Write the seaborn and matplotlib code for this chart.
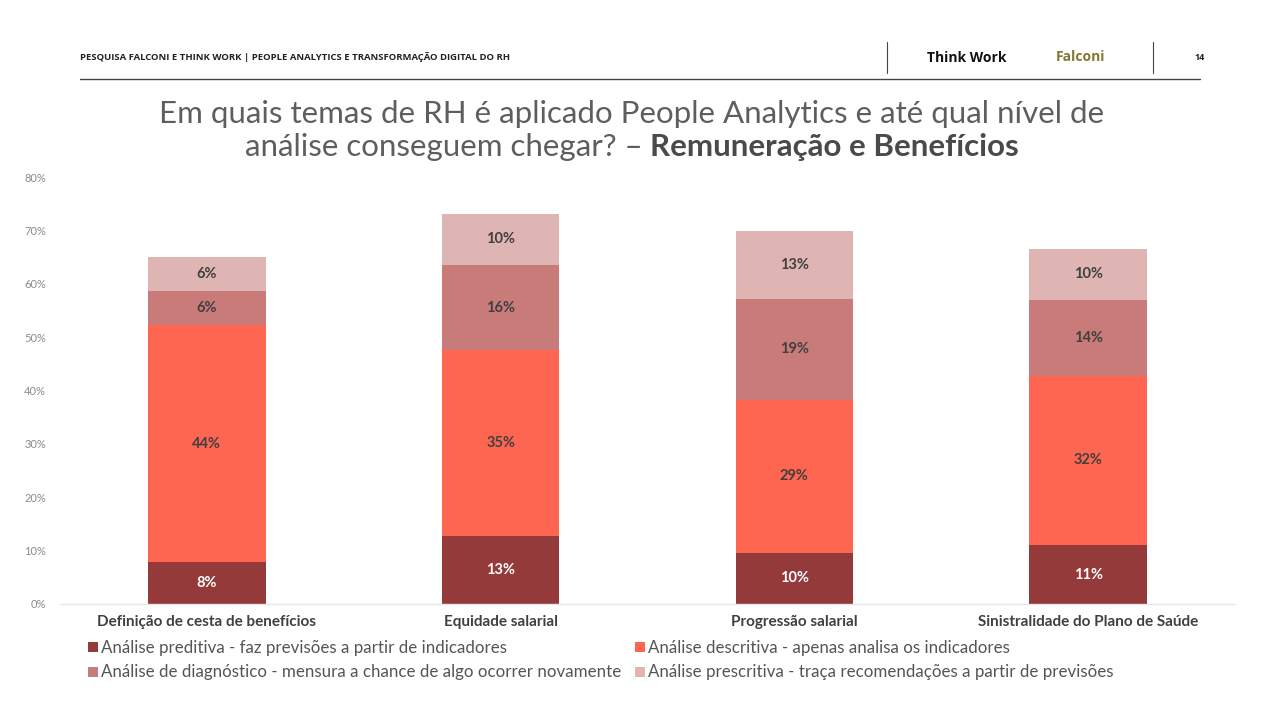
import matplotlib
matplotlib.use("Agg")
import matplotlib.pyplot as plt
from matplotlib.lines import Line2D
import seaborn as sns
import pandas as pd
import numpy as np

categories = ["Definição de cesta de benefícios", "Equidade salarial",
              "Progressão salarial", "Sinistralidade do Plano de Saúde"]
preditiva = [7.9, 12.7, 9.6, 11.0]
descritiva = [44.3, 34.9, 28.7, 31.8]
diagnostico = [6.4, 15.9, 18.9, 14.2]
prescritiva = [6.4, 9.6, 12.7, 9.6]

series_names = [
    "Análise preditiva - faz previsões a partir de indicadores",
    "Análise descritiva - apenas analisa os indicadores",
    "Análise de diagnóstico - mensura a chance de algo ocorrer novamente",
    "Análise prescritiva - traça recomendações a partir de previsões",
]
series_vals = [preditiva, descritiva, diagnostico, prescritiva]
colors = ["#953A3A", "#FF6652", "#C97B79", "#DFB5B4"]
label_colors = ["#FFFFFF", "#3F3F3F", "#3F3F3F", "#3F3F3F"]
yticks = [0, 10, 20, 30, 40, 50, 60, 70, 80]

sns.set_theme(style="white")
plt.rcParams["font.family"] = ["Lato", "DejaVu Sans"]

fig = plt.figure(figsize=(12.8, 7.2), dpi=100)
ax = fig.add_axes([60/1280, 1-604/720, (1235-60)/1280, (604-177)/720])

df = pd.DataFrame({"cat": categories})
cum = np.zeros(len(categories))
cums = []
for vals in series_vals:
    cum = cum + np.array(vals)
    cums.append(cum.copy())

# draw cumulative bars from top down so they overlap into a stack
for i in range(len(series_vals) - 1, -1, -1):
    d = df.copy()
    d["val"] = cums[i]
    sns.barplot(data=d, x="cat", y="val", order=categories, color=colors[i],
                width=0.4, saturation=1, ax=ax, linewidth=0, errorbar=None)

# segment labels
for i, vals in enumerate(series_vals):
    bottoms = cums[i] - np.array(vals)
    for j, v in enumerate(vals):
        ax.text(j, bottoms[j] + v / 2, f"{v:.0f}%", ha="center", va="center",
                fontsize=10.5, fontweight="bold", color=label_colors[i])

ax.set_xlim(-0.5, 3.5)
ax.set_ylim(0, 80)
ax.set_yticks(yticks)
ax.set_yticklabels([f"{t}%" for t in yticks], color="#8A8A8A", fontsize=8)
ax.tick_params(axis="y", length=0, pad=10)
ax.tick_params(axis="x", length=0, pad=8)
ax.set_xticks(range(len(categories)))
ax.set_xticklabels(categories, fontsize=11, fontweight="bold", color="#404040")
ax.set_xlabel("")
ax.set_ylabel("")
for s in ["left", "right", "top"]:
    ax.spines[s].set_visible(False)
ax.spines["bottom"].set_color("#E6E6E6")
ax.spines["bottom"].set_linewidth(1)

# legends (two columns)
def mk(i):
    return Line2D([0], [0], marker="s", linestyle="", markersize=7,
                  markerfacecolor=colors[i], markeredgewidth=0)

leg_kw = dict(frameon=False, fontsize=12.2, handletextpad=0.1, labelspacing=0.5,
              borderpad=0, borderaxespad=0, handlelength=0.8, labelcolor="#555555")
fig.legend([mk(0), mk(2)], [series_names[0], series_names[2]], loc="upper left",
           bbox_to_anchor=(86/1280, 1-640/720), **leg_kw)
fig.legend([mk(1), mk(3)], [series_names[1], series_names[3]], loc="upper left",
           bbox_to_anchor=(633/1280, 1-640/720), **leg_kw)

# title
fig.text(632/1280, 1-114/720,
         "Em quais temas de RH é aplicado People Analytics e até qual nível de",
         ha="center", va="center", fontsize=22.5, color="#5E5E5E", fontweight="normal")
t1 = fig.text(0, 1-147/720, "análise conseguem chegar? – ", ha="left", va="center",
              fontsize=22.5, color="#5E5E5E", fontweight="normal")
t2 = fig.text(0, 1-147/720, "Remuneração e Benefícios", ha="left", va="center",
              fontsize=22.5, color="#4A4A4A", fontweight="bold")
fig.canvas.draw()
r = fig.canvas.get_renderer()
w1 = t1.get_window_extent(r).width
w2 = t2.get_window_extent(r).width
start = 632 - (w1 + w2) / 2
t1.set_x(start / 1280)
t2.set_x((start + w1) / 1280)

# header
fig.text(80/1280, 1-57/720,
         "PESQUISA FALCONI E THINK WORK | PEOPLE ANALYTICS E TRANSFORMAÇÃO DIGITAL DO RH",
         ha="left", va="center", fontsize=6.8, fontweight="bold", color="#222222",
         family=["Open Sans", "DejaVu Sans"])
fig.text(927/1280, 1-58/720, "Think Work", ha="left", va="center", fontsize=10,
         fontweight="bold", color="#111111", family=["Open Sans", "DejaVu Sans"])
fig.text(1056/1280, 1-57/720, "Falconi", ha="left", va="center", fontsize=10,
         fontweight="bold", color="#7F7A2E", family=["Open Sans", "DejaVu Sans"])
fig.text(1200/1280, 1-58/720, "14", ha="center", va="center", fontsize=6.5,
         fontweight="bold", color="#222222", family=["Open Sans", "DejaVu Sans"])
fig.add_artist(Line2D([80/1280, 1200/1280], [1-79/720, 1-79/720], color="#444444", lw=1))
fig.add_artist(Line2D([887/1280, 887/1280], [1-42/720, 1-73/720], color="#444444", lw=0.8))
fig.add_artist(Line2D([1153/1280, 1153/1280], [1-42/720, 1-73/720], color="#444444", lw=0.8))

fig.savefig("out.png", dpi=100, facecolor="white")
